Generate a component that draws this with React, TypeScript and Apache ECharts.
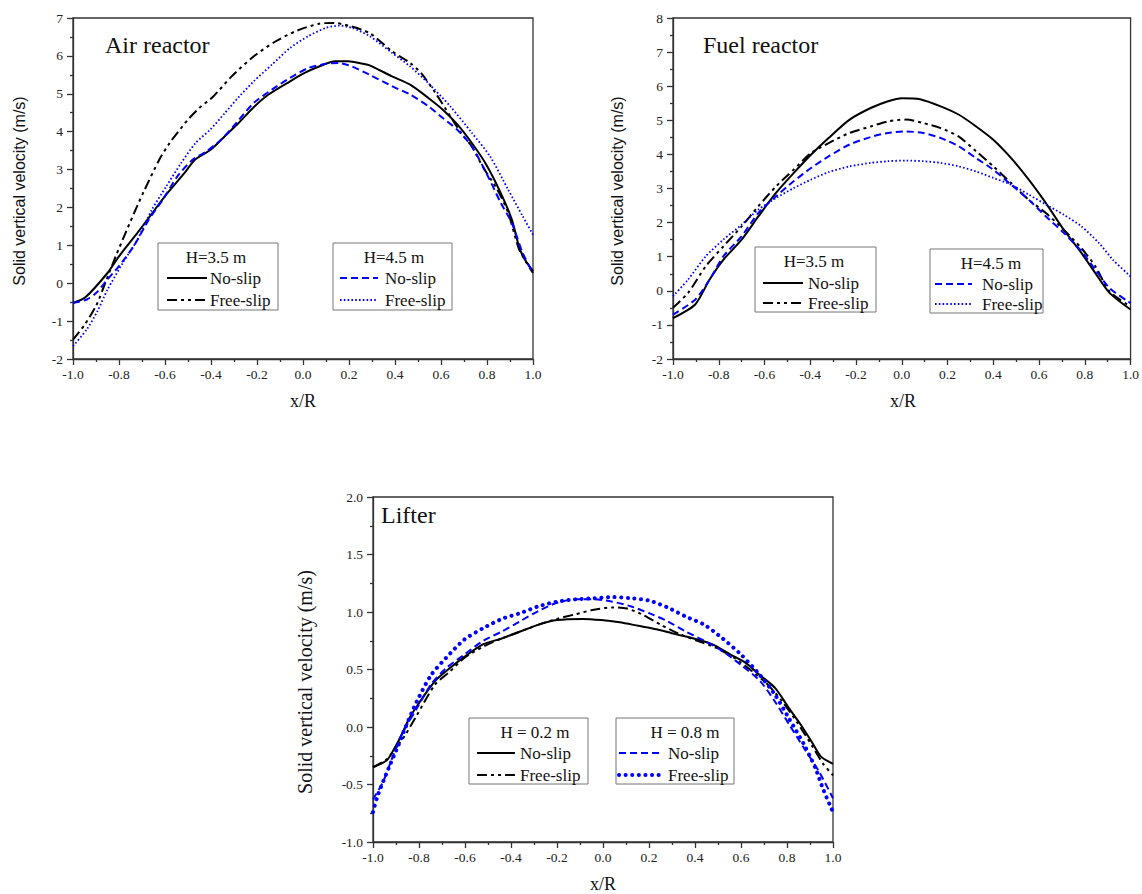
import React, { useEffect, useRef } from "react";
import * as echarts from "echarts";

// ---- Data (x/R, velocity m/s) ----
const airNoSlip35 = [[-1,-0.52],[-0.946,-0.37],[-0.85,0.27],[-0.8,0.71],[-0.72,1.33],[-0.665,1.77],[-0.6,2.3],[-0.515,2.91],[-0.47,3.26],[-0.4,3.53],[-0.34,3.88],[-0.28,4.23],[-0.21,4.67],[-0.15,4.98],[-0.056,5.33],[0.007,5.55],[0.07,5.72],[0.14,5.86],[0.197,5.86],[0.26,5.79],[0.29,5.75],[0.387,5.46],[0.466,5.24],[0.545,4.89],[0.608,4.58],[0.671,4.19],[0.734,3.7],[0.797,3.13],[0.86,2.38],[0.908,1.68],[0.94,0.95],[0.965,0.62],[1,0.32]];
const airFreeSlip35 = [[-1,-1.49],[-0.95,-1.1],[-0.9,-0.6],[-0.86,0.0],[-0.815,0.7],[-0.77,1.35],[-0.72,2.05],[-0.69,2.45],[-0.625,3.26],[-0.58,3.7],[-0.546,3.97],[-0.5,4.32],[-0.45,4.63],[-0.39,4.93],[-0.31,5.46],[-0.214,5.99],[-0.12,6.38],[-0.025,6.67],[0.07,6.85],[0.134,6.87],[0.197,6.8],[0.29,6.6],[0.387,6.12],[0.466,5.81],[0.513,5.55],[0.576,5.02],[0.64,4.41],[0.687,3.97],[0.734,3.61],[0.78,3.09],[0.845,2.47],[0.892,1.86],[0.94,0.89],[1,0.27]];
const airNoSlip45 = [[-1,-0.52],[-0.94,-0.43],[-0.9,-0.26],[-0.85,0.1],[-0.8,0.45],[-0.736,0.98],[-0.67,1.68],[-0.61,2.2],[-0.546,2.82],[-0.48,3.26],[-0.42,3.48],[-0.356,3.79],[-0.29,4.23],[-0.214,4.76],[-0.135,5.11],[-0.056,5.42],[0.023,5.68],[0.1,5.79],[0.157,5.81],[0.213,5.72],[0.29,5.5],[0.387,5.2],[0.466,4.98],[0.545,4.67],[0.608,4.36],[0.671,4.05],[0.734,3.61],[0.797,2.91],[0.86,2.12],[0.908,1.59],[0.955,0.8],[1,0.27]];
const airFreeSlip45 = [[-1,-1.66],[-0.94,-1.22],[-0.894,-0.74],[-0.85,-0.17],[-0.783,0.54],[-0.72,1.15],[-0.657,1.94],[-0.594,2.56],[-0.53,3.17],[-0.467,3.7],[-0.404,4.05],[-0.34,4.49],[-0.277,4.93],[-0.214,5.33],[-0.135,5.77],[-0.056,6.21],[0.023,6.52],[0.1,6.74],[0.157,6.8],[0.213,6.74],[0.29,6.52],[0.387,6.08],[0.466,5.72],[0.545,5.28],[0.64,4.67],[0.734,3.97],[0.813,3.35],[0.892,2.47],[0.955,1.77],[1,1.28]];

const fuelNoSlip35 = [[-1,-0.8],[-0.903,-0.4],[-0.84,0.33],[-0.78,0.91],[-0.7,1.5],[-0.627,2.18],[-0.55,2.87],[-0.473,3.45],[-0.397,3.99],[-0.32,4.48],[-0.228,5.02],[-0.136,5.36],[-0.06,5.56],[0,5.65],[0.08,5.62],[0.17,5.41],[0.248,5.17],[0.325,4.82],[0.4,4.43],[0.478,3.89],[0.555,3.26],[0.63,2.57],[0.708,1.79],[0.785,1.11],[0.846,0.52],[0.908,-0.06],[1,-0.55]];
const fuelFreeSlip35 = [[-1,-0.5],[-0.934,-0.06],[-0.857,0.72],[-0.78,1.3],[-0.7,1.89],[-0.627,2.48],[-0.55,3.06],[-0.473,3.55],[-0.397,4.04],[-0.32,4.33],[-0.228,4.63],[-0.136,4.82],[-0.06,4.97],[0.018,5.02],[0.094,4.92],[0.17,4.77],[0.248,4.53],[0.325,4.09],[0.4,3.65],[0.478,3.16],[0.555,2.67],[0.63,2.28],[0.708,1.79],[0.785,1.25],[0.846,0.72],[0.908,-0.02],[1,-0.46]];
const fuelNoSlip45 = [[-1,-0.7],[-0.903,-0.26],[-0.84,0.33],[-0.78,1.01],[-0.7,1.6],[-0.627,2.28],[-0.55,2.77],[-0.473,3.21],[-0.397,3.6],[-0.32,3.94],[-0.228,4.29],[-0.136,4.51],[-0.06,4.63],[0.018,4.67],[0.094,4.63],[0.17,4.48],[0.248,4.24],[0.325,3.89],[0.4,3.55],[0.478,3.11],[0.555,2.67],[0.63,2.18],[0.708,1.7],[0.785,1.16],[0.846,0.62],[0.908,0.08],[1,-0.36]];
const fuelFreeSlip45 = [[-1,-0.16],[-0.934,0.33],[-0.857,1.01],[-0.78,1.5],[-0.7,1.94],[-0.627,2.38],[-0.55,2.72],[-0.473,3.01],[-0.397,3.26],[-0.32,3.48],[-0.228,3.65],[-0.136,3.75],[-0.06,3.8],[0.018,3.82],[0.094,3.8],[0.17,3.75],[0.248,3.65],[0.325,3.5],[0.4,3.31],[0.478,3.11],[0.555,2.82],[0.63,2.53],[0.708,2.23],[0.785,1.89],[0.862,1.4],[0.923,0.91],[1,0.42]];

const lifterNoSlip02 = [[-1,-0.35],[-0.94,-0.29],[-0.908,-0.19],[-0.876,-0.07],[-0.844,0.07],[-0.796,0.22],[-0.73,0.4],[-0.667,0.51],[-0.603,0.61],[-0.52,0.72],[-0.44,0.77],[-0.36,0.83],[-0.28,0.89],[-0.2,0.93],[-0.088,0.94],[-0.008,0.93],[0.072,0.91],[0.153,0.88],[0.233,0.85],[0.31,0.81],[0.394,0.77],[0.474,0.72],[0.555,0.63],[0.619,0.56],[0.683,0.45],[0.748,0.34],[0.81,0.16],[0.86,0.02],[0.908,-0.13],[0.949,-0.26],[1,-0.32]];
const lifterFreeSlip02 = [[-1,-0.35],[-0.94,-0.28],[-0.908,-0.2],[-0.86,-0.07],[-0.81,0.1],[-0.73,0.37],[-0.667,0.48],[-0.603,0.6],[-0.52,0.7],[-0.44,0.77],[-0.36,0.83],[-0.28,0.89],[-0.2,0.94],[-0.12,0.98],[-0.04,1.02],[0.04,1.04],[0.104,1.03],[0.169,0.98],[0.25,0.89],[0.33,0.81],[0.41,0.75],[0.49,0.69],[0.571,0.6],[0.651,0.48],[0.716,0.37],[0.78,0.22],[0.844,0.04],[0.908,-0.16],[0.957,-0.32],[1,-0.42]];
const lifterNoSlip08 = [[-1,-0.63],[-0.957,-0.48],[-0.924,-0.31],[-0.876,-0.07],[-0.81,0.16],[-0.748,0.37],[-0.683,0.51],[-0.603,0.63],[-0.52,0.75],[-0.44,0.83],[-0.36,0.92],[-0.28,1.01],[-0.2,1.08],[-0.12,1.11],[-0.04,1.11],[0.04,1.09],[0.12,1.05],[0.2,0.99],[0.28,0.92],[0.36,0.83],[0.44,0.75],[0.52,0.66],[0.6,0.54],[0.683,0.4],[0.748,0.22],[0.81,0.02],[0.876,-0.19],[0.94,-0.39],[1,-0.62]];
const lifterFreeSlip08 = [[-1,-0.74],[-0.98,-0.6],[-0.957,-0.48],[-0.924,-0.32],[-0.89,-0.16],[-0.86,-0.01],[-0.81,0.22],[-0.748,0.45],[-0.683,0.6],[-0.603,0.76],[-0.52,0.86],[-0.44,0.94],[-0.36,0.99],[-0.28,1.05],[-0.2,1.09],[-0.12,1.11],[-0.04,1.12],[0.04,1.13],[0.12,1.12],[0.2,1.1],[0.28,1.04],[0.36,0.96],[0.44,0.89],[0.52,0.77],[0.6,0.63],[0.683,0.45],[0.748,0.28],[0.81,0.07],[0.876,-0.16],[0.924,-0.36],[0.957,-0.54],[1,-0.74]];

const panelTitles = ["Air reactor", "Fuel reactor", "Lifter"];
const legendTitles = [["H=3.5 m", "H=4.5 m"], ["H=3.5 m", "H=4.5 m"], ["H = 0.2 m", "H = 0.8 m"]];
const rowLabels = ["No-slip", "Free-slip"];
const yRanges = [[-2, 7, 1], [-2, 8, 1], [-1, 2, 0.5]];
const yLabelText = "Solid vertical velocity (m/s)";
const xLabelText = "x/R";

const SERIF = "'Liberation Serif', 'Times New Roman', serif";
const SANS = "'Liberation Sans', Arial, sans-serif";
const BLACK = "#000";
const BLUE = "#0000ff";
const AX = "#333";

const solid = { color: BLACK, width: 2, type: "solid" };
const dashDot = { color: BLACK, width: 2, type: [10, 4, 3, 4, 3, 4] };
const blueDash = { color: BLUE, width: 2, type: [7, 4] };
const blueDot = { color: BLUE, width: 1.8, type: [1.6, 2.2] };
const blueBigDot = { color: BLUE, width: 4, type: [0.1, 6.5], cap: "round" };

const grids = [
  { left: 73, top: 18, width: 460, height: 341 },
  { left: 673, top: 18, width: 460, height: 341 },
  { left: 373, top: 497, width: 460, height: 345 },
];

function fmt(v: number) {
  if (Math.abs(v) < 1e-9) return "0.0";
  return v.toFixed(1);
}

export default function App() {
  const ref = useRef<HTMLDivElement>(null);
  useEffect(() => {
    if (!ref.current) return;
    const chart = echarts.init(ref.current, null, { renderer: "svg" });

    const lineCommon = { color: AX, width: 1.3 };
    const xAxis = grids.map((_, i) => ({
      gridIndex: i,
      type: "value",
      min: -1,
      max: 1,
      interval: 0.2,
      axisLine: { show: true, onZero: false, lineStyle: lineCommon },
      axisTick: { show: true, inside: false, length: 6, lineStyle: lineCommon },
      minorTick: { show: true, splitNumber: 2, length: 3, lineStyle: lineCommon },
      splitLine: { show: false },
      axisLabel: { fontFamily: SERIF, fontSize: 13.5, color: "#222", margin: 8, formatter: fmt },
    }));
    const yAxis = grids.map((_, i) => ({
      gridIndex: i,
      type: "value",
      min: yRanges[i][0],
      max: yRanges[i][1],
      interval: yRanges[i][2],
      axisLine: { show: true, onZero: false, lineStyle: lineCommon },
      axisTick: { show: true, inside: false, length: 6, lineStyle: lineCommon },
      minorTick: { show: true, splitNumber: 2, length: 3, lineStyle: lineCommon },
      splitLine: { show: false },
      axisLabel: {
        fontFamily: SERIF, fontSize: 13.5, color: "#222", margin: 10,
        formatter: i === 2 ? fmt : (v: number) => String(Math.round(v)),
      },
    }));

    const mk = (data: number[][], idx: number, ls: any) => ({
      type: "line",
      xAxisIndex: idx,
      yAxisIndex: idx,
      data,
      showSymbol: false,
      symbol: "none",
      smooth: 0.25,
      silent: true,
      lineStyle: ls,
    });

    const series = [
      mk(airNoSlip35, 0, solid), mk(airFreeSlip35, 0, dashDot), mk(airNoSlip45, 0, blueDash), mk(airFreeSlip45, 0, blueDot),
      mk(fuelNoSlip35, 1, solid), mk(fuelFreeSlip35, 1, dashDot), mk(fuelNoSlip45, 1, blueDash), mk(fuelFreeSlip45, 1, blueDot),
      mk(lifterNoSlip02, 2, solid), mk(lifterFreeSlip02, 2, dashDot), mk(lifterNoSlip08, 2, blueDash), mk(lifterFreeSlip08, 2, blueBigDot),
    ];

    const txt = (x: number, y: number, text: string, size: number, family: string, align = "left", rot = 0) => ({
      type: "text", x, y, rotation: rot, z: 101,
      style: {
        text, fontSize: size, fontFamily: family, fill: "#111",
        align, verticalAlign: "middle", textAlign: align, textVerticalAlign: "middle",
      },
    });
    const seg = (x1: number, x2: number, y: number, ls: any) => ({
      type: "line", z: 101,
      shape: { x1, y1: y, x2, y2: y },
      style: { stroke: ls.color, lineWidth: ls.width, lineDash: ls.type === "solid" ? null : ls.type, lineCap: ls.cap || "butt" },
    });
    const box = (x: number, y: number, w: number, h: number, title: string, tcx: number, lx1: number, lx2: number, tx: number, r1: number, r2: number, ls1: any, ls2: any) => [
      { type: "rect", z: 100, shape: { x, y, width: w, height: h }, style: { fill: "#fff", stroke: "#777", lineWidth: 1 } },
      txt(tcx, y + 14, title, 17, SERIF, "center"),
      seg(lx1, lx2, r1, ls1), txt(tx, r1, rowLabels[0], 17, SERIF),
      seg(lx1, lx2, r2, ls2), txt(tx, r2, rowLabels[1], 17, SERIF),
    ];

    const graphic: any[] = [
      txt(105, 45, panelTitles[0], 24, SERIF),
      txt(703, 45, panelTitles[1], 24, SERIF),
      txt(381, 515, panelTitles[2], 24, SERIF),
      txt(19, 191, yLabelText, 16, SANS, "center", Math.PI / 2),
      txt(617, 191, yLabelText, 16, SANS, "center", Math.PI / 2),
      txt(305, 682, yLabelText, 20, SERIF, "center", Math.PI / 2),
      txt(303, 401, xLabelText, 18, SERIF, "center"),
      txt(903, 401, xLabelText, 18, SERIF, "center"),
      txt(603, 884, xLabelText, 18, SERIF, "center"),
      ...box(158, 243, 120, 67, legendTitles[0][0], 216, 167, 207, 210, 278, 300, solid, dashDot),
      ...box(333, 243, 119, 67, legendTitles[0][1], 394, 340, 378, 385, 278, 300, blueDash, blueDot),
      ...box(755, 247, 121, 65, legendTitles[1][0], 814, 763, 803, 808, 283, 303, solid, dashDot),
      ...box(930, 249, 113, 64, legendTitles[1][1], 991, 935, 972, 982, 284, 304, blueDash, blueDot),
      ...box(469, 718, 119, 66, legendTitles[2][0], 535, 477, 515, 520, 753, 775, solid, dashDot),
      ...box(616, 718, 118, 66, legendTitles[2][1], 685, 619, 660, 668, 753, 775, blueDash, blueBigDot),
    ];

    chart.setOption({
      animation: false,
      backgroundColor: "#fff",
      grid: grids.map((g) => ({ ...g, show: true, borderColor: AX, borderWidth: 1.3, backgroundColor: "transparent" })),
      xAxis,
      yAxis,
      series,
      graphic,
    });
    return () => chart.dispose();
  }, []);
  return <div ref={ref} style={{ position: "absolute", left: 0, top: 0, width: 1142, height: 894 }} />;
}
